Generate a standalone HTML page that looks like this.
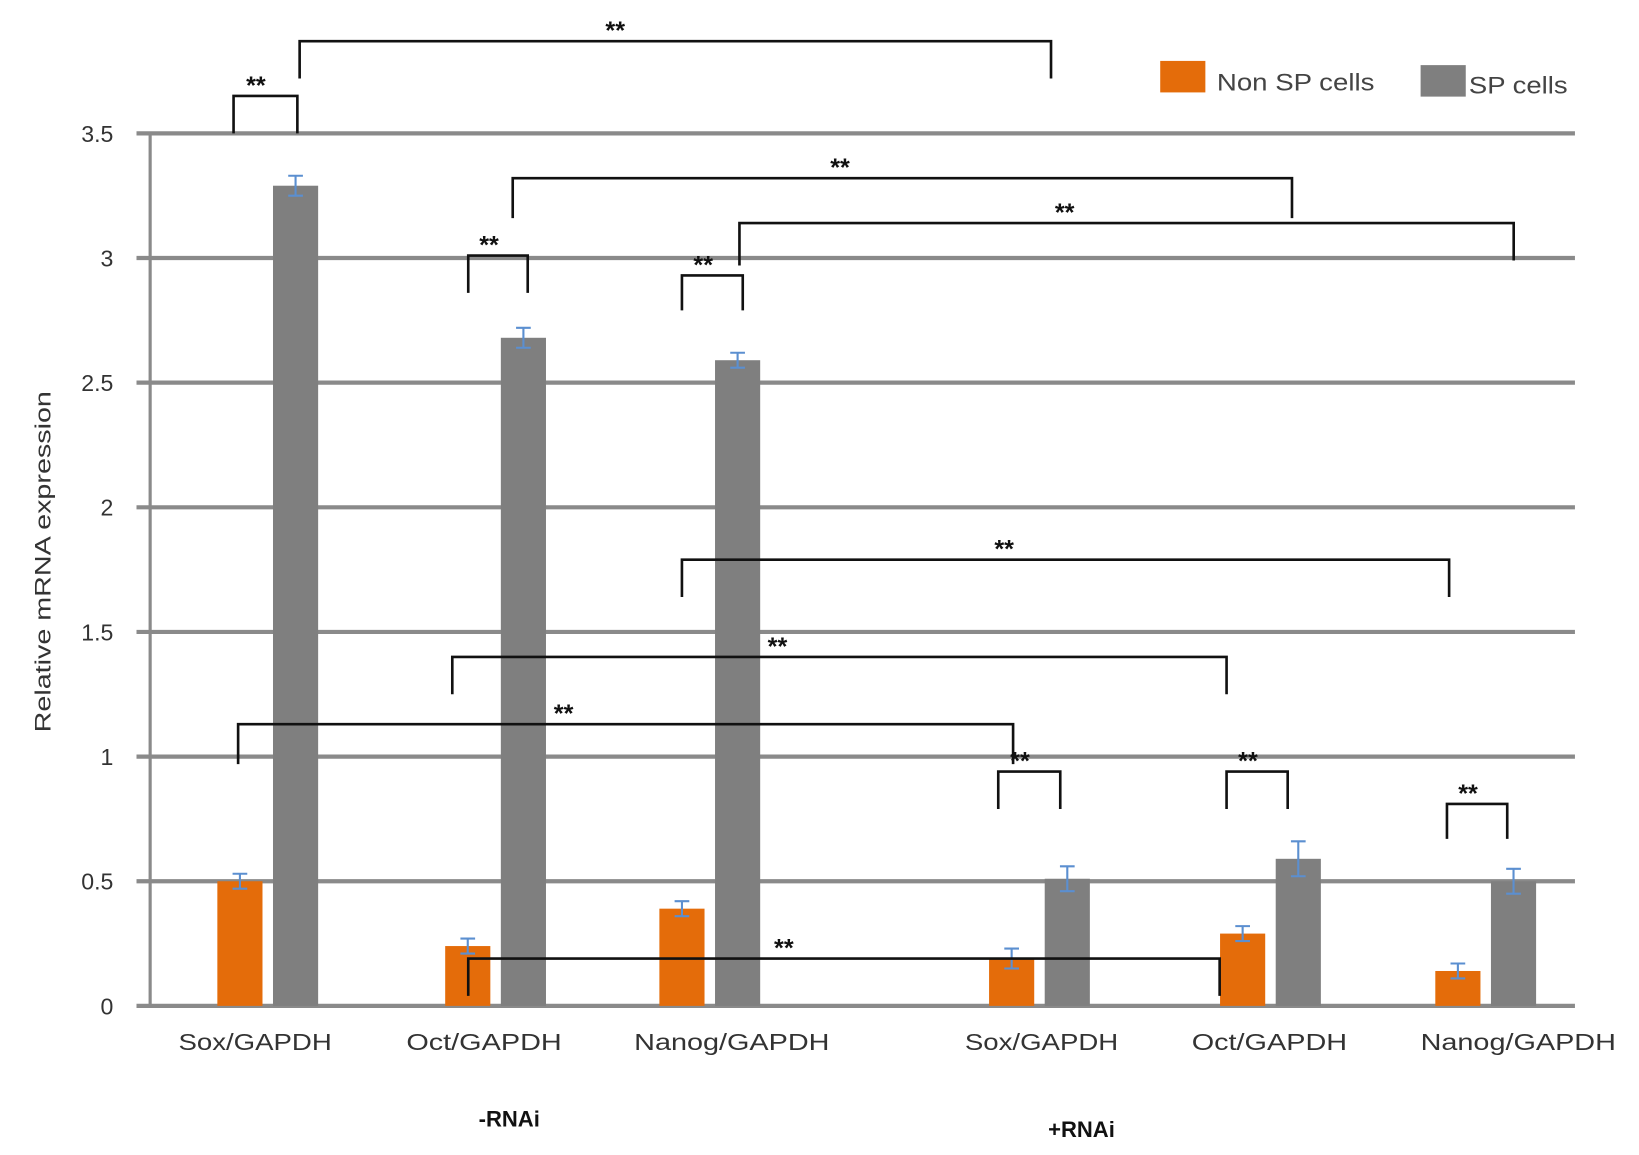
<!DOCTYPE html>
<html><head><meta charset="utf-8"><style>
html,body{margin:0;padding:0;background:#fff;}
svg{display:block;font-family:"Liberation Sans",sans-serif;}
</style></head><body>
<svg id="chart" width="1639" height="1155" viewBox="0 0 1561 1100" xmlns="http://www.w3.org/2000/svg">
<g id="grid"></g><g id="bars"></g><g id="brackets"></g><g id="labels"></g>
<text transform="translate(48,535) rotate(-90)" text-anchor="middle" font-size="21" fill="#333" textLength="325" lengthAdjust="spacingAndGlyphs">Relative mRNA expression</text>
<text x="485" y="1073" text-anchor="middle" font-size="21" font-weight="bold" fill="#111">-RNAi</text>
<text x="1030" y="1083" text-anchor="middle" font-size="21" font-weight="bold" fill="#111">+RNAi</text>
<g>
<rect x="1105" y="58" width="43" height="30" fill="#e46c0a"/>
<text x="1159" y="86" font-size="23" fill="#444" textLength="150" lengthAdjust="spacingAndGlyphs">Non SP cells</text>
<rect x="1353" y="62" width="43" height="30" fill="#7f7f7f"/>
<text x="1399" y="89" font-size="23" fill="#444" textLength="94" lengthAdjust="spacingAndGlyphs">SP cells</text>
</g>
</svg>
<script>
const categories = ["Sox/GAPDH","Oct/GAPDH","Nanog/GAPDH","Sox/GAPDH","Oct/GAPDH","Nanog/GAPDH"];
const nonSP = [0.50,0.24,0.39,0.19,0.29,0.14];
const nonSPErr = [0.03,0.03,0.03,0.04,0.03,0.03];
const sp = [3.29,2.68,2.59,0.51,0.59,0.50];
const spErr = [0.04,0.04,0.03,0.05,0.07,0.05];
const yTicks = [0,0.5,1,1.5,2,2.5,3,3.5];
const yTickLabels = ["0","0.5","1","1.5","2","2.5","3","3.5"];
// significance brackets: [left category pos, right category pos, level value, left leg bottom value, right leg bottom value]
const brackets = [
 [-0.15,0.13,3.65,3.5,3.5],[0.14,3.05,3.87,3.72,3.72],[1.08,4.10,3.32,3.16,3.16],[0.88,1.15,3.01,2.86,2.86],
 [2.09,5.13,3.14,2.97,2.99],[1.87,2.10,2.93,2.79,2.79],[1.87,4.83,1.79,1.64,1.64],[0.81,3.81,1.40,1.25,1.25],
 [-0.13,2.92,1.13,0.97,0.97],[2.875,3.09,0.94,0.79,0.79],[3.81,4.08,0.94,0.79,0.79],[4.82,5.10,0.81,0.67,0.67],[0.88,3.78,0.19,0.04,0.04]
];
const NS="http://www.w3.org/2000/svg";
const x0=140,x1=1500,yBase=958,yTop=127,yMax=3.5;
const yS=v=>yBase-(v/yMax)*(yBase-yTop);
const catCenters=[255,472,676,990,1210,1415];
const labelCenters=[243,461,697,992,1209,1446];
const xC=p=>{const i=Math.max(0,Math.min(4,Math.floor(p)));return catCenters[i]+(p-i)*(catCenters[i+1]-catCenters[i]);};
const barW=43;
const barX=(i,s)=>catCenters[i]-48+s*53;
function mk(tag,attrs,parent){const e=document.createElementNS(NS,tag);for(const k in attrs)e.setAttribute(k,attrs[k]);parent.appendChild(e);return e;}
const grid=document.getElementById('grid'),barsG=document.getElementById('bars'),brG=document.getElementById('brackets'),lab=document.getElementById('labels');
yTicks.forEach((t,i)=>{
 const l=mk('line',{x1:x0-10,x2:x1,y1:yS(t),y2:yS(t),stroke:'#8a8a8a','stroke-width':4},grid);
 
 
 const tx=mk('text',{x:108,y:yS(t)+8,'text-anchor':'end','font-size':22,fill:'#333'},lab);
 tx.textContent=yTickLabels[i];
 
 
});
const ax=mk('line',{x1:x0+3,x2:x0+3,y1:yTop,y2:yBase,stroke:'#8a8a8a','stroke-width':3},grid);


function drawBar(i,s,v,e){
 const x=barX(i,s);
 const r=mk('rect',{x:x,y:yS(v),width:barW,height:yBase-yS(v),fill:s?'#7f7f7f':'#e46c0a'},barsG);
 
 
 const cx=x+barW/2;
 const eb=mk('path',{d:`M${cx-7} ${yS(v+e)}H${cx+7}M${cx} ${yS(v+e)}V${yS(v-e)}M${cx-7} ${yS(v-e)}H${cx+7}`,stroke:'#5b8fd0','stroke-width':2,fill:'none'},barsG);
 
 
}
categories.forEach((c,i)=>{
 drawBar(i,0,nonSP[i],nonSPErr[i]);
 drawBar(i,1,sp[i],spErr[i]);
 const t=mk('text',{x:labelCenters[i],y:1000,'text-anchor':'middle','font-size':22,fill:'#333',textLength:148,lengthAdjust:'spacingAndGlyphs'},lab);
 t.textContent=c;
 if(c.startsWith('Sox')) t.setAttribute('textLength',146);
 if(c.startsWith('Nanog')) t.setAttribute('textLength',186);
 
 
});
brackets.forEach(b=>{
 const xa=xC(b[0]),xb=xC(b[1]),yl=yS(b[2]),ya=yS(b[3]),yb=yS(b[4]);
 const p=mk('path',{d:`M${xa} ${ya}V${yl}H${xb}V${yb}`,stroke:'#111','stroke-width':2.5,fill:'none'},brG);
 
 
 const mid = (xb-xa)<100 ? xa+(xb-xa)*0.35 : xa+(xb-xa)*0.42;
 const t=mk('text',{x:mid,y:yl-2,'text-anchor':'middle','font-size':24,'font-weight':'bold',fill:'#111'},brG);
 t.textContent='**';
 
 
});
</script>
</body></html>
